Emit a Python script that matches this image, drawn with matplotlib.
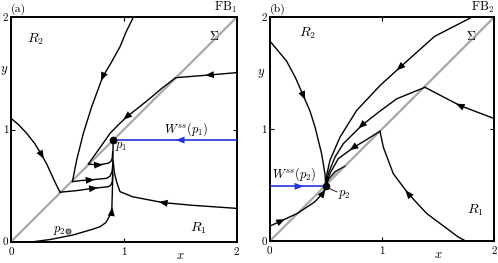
import numpy as np
import matplotlib
matplotlib.use('Agg')
import matplotlib.pyplot as plt

plt.rcParams['font.family'] = 'serif'
plt.rcParams['font.serif'] = ['cmr10', 'DejaVu Serif']
plt.rcParams['mathtext.fontset'] = 'cm'
plt.rcParams['axes.unicode_minus'] = False

## Panel (a) orbits, listed in flow direction
a_top_x = [1.084, 1.02, 0.966, 0.89, 0.813, 0.715, 0.641, 0.582, 0.544]
a_top_y = [2.00, 1.87, 1.738, 1.60, 1.47, 1.203, 0.966, 0.728, 0.535]
a_left_x = [0.0, 0.07, 0.139, 0.21, 0.272, 0.32, 0.361, 0.40, 0.434]
a_left_y = [1.10, 1.04, 0.966, 0.875, 0.773, 0.685, 0.594, 0.51, 0.441]
a_right_x = [2.0, 1.76, 1.46]
a_right_y = [1.507, 1.486, 1.462]
a_diag_x = [1.46, 1.34, 1.232, 1.13, 1.026, 0.95, 0.878, 0.774, 0.685]
a_diag_y = [1.462, 1.37, 1.278, 1.195, 1.114, 1.04, 0.966, 0.817, 0.692]
a_fan1_x = [0.434, 0.58, 0.73, 0.863, 0.885, 0.898, 0.901]
a_fan1_y = [0.441, 0.455, 0.476, 0.49, 0.505, 0.535, 0.60]
a_fan2_x = [0.544, 0.62, 0.70, 0.848, 0.878, 0.895, 0.901]
a_fan2_y = [0.535, 0.545, 0.55, 0.565, 0.585, 0.624, 0.68]
a_fan3_x = [0.685, 0.774, 0.863, 0.885, 0.897, 0.901]
a_fan3_y = [0.692, 0.684, 0.70, 0.715, 0.743, 0.80]
a_bot_x = [0.20, 0.35, 0.55, 0.72, 0.79, 0.84, 0.863, 0.893, 0.90, 0.905]
a_bot_y = [0.0, 0.02, 0.06, 0.11, 0.134, 0.17, 0.209, 0.267, 0.52, 0.906]
a_low_x = [2.0, 1.6, 1.35, 1.08, 0.966, 0.937, 0.915, 0.905]
a_low_y = [0.297, 0.325, 0.348, 0.40, 0.446, 0.53, 0.62, 0.72]
p1 = (0.905, 0.906)
p2a = (0.508, 0.095)

## Panel (b) orbits
b_left_x = [0.0, 0.15, 0.23, 0.30, 0.36, 0.404, 0.463, 0.493, 0.499]
b_left_y = [1.79, 1.61, 1.46, 1.30, 1.16, 1.02, 0.78, 0.60, 0.50]
b_top_x = [1.80, 1.47, 1.161, 0.983, 0.775, 0.627, 0.537, 0.51, 0.499]
b_top_y = [2.00, 1.83, 1.553, 1.39, 1.168, 0.93, 0.722, 0.60, 0.50]
b_right_x = [1.99, 1.696, 1.384]
b_right_y = [1.10, 1.212, 1.375]
b_diag1_x = [1.384, 1.132, 0.98, 0.82, 0.656, 0.582, 0.525, 0.499]
b_diag1_y = [1.375, 1.272, 1.16, 1.034, 0.871, 0.751, 0.61, 0.50]
b_bot_x = [1.75, 1.68, 1.40, 1.235, 1.102, 1.013, 0.983]
b_bot_y = [0.0, 0.038, 0.247, 0.425, 0.603, 0.84, 0.983]
b_diag2_x = [0.983, 0.86, 0.745, 0.611, 0.54, 0.499]
b_diag2_y = [0.983, 0.905, 0.835, 0.737, 0.61, 0.50]
b_low_x = [0.0, 0.10, 0.25, 0.40, 0.475, 0.499]
b_low_y = [0.134, 0.18, 0.25, 0.35, 0.43, 0.49]
b_lens_x = [0.499, 0.53, 0.58, 0.67, 0.60, 0.53, 0.499]
b_lens_y = [0.49, 0.56, 0.62, 0.67, 0.60, 0.53, 0.49]
p2b = (0.499, 0.49)

blue = '#2233dd'
grey = '#a8a8a8'


def arrow_at(ax, xs, ys, k, color='k'):
    ## small filled head at vertex k pointing along the flow
    i0, i1 = max(k - 1, 0), min(k + 1, len(xs) - 1)
    dx, dy = xs[i1] - xs[i0], ys[i1] - ys[i0]
    n = np.hypot(dx, dy)
    dx, dy = dx / n, dy / n
    ax.annotate('', xy=(xs[k] + 0.04 * dx, ys[k] + 0.04 * dy),
                xytext=(xs[k] - 0.04 * dx, ys[k] - 0.04 * dy),
                arrowprops=dict(arrowstyle='-|>,head_length=0.7,head_width=0.28',
                                color=color, lw=0, shrinkA=0, shrinkB=0,
                                mutation_scale=9))


def orbit(ax, xs, ys, arrows=(), color='k', lw=1.0):
    ax.plot(xs, ys, color=color, lw=lw, solid_capstyle='round',
            solid_joinstyle='round', zorder=3)
    for k in arrows:
        arrow_at(ax, xs, ys, k, color)


def frame(ax, tag, fb):
    ax.plot([0, 2], [0, 2], color=grey, lw=1.6, zorder=2)
    ax.set_xlim(0, 2)
    ax.set_ylim(0, 2)
    ax.set_xticks([0, 1, 2])
    ax.set_yticks([0, 1, 2])
    ax.set_xticklabels(['0', '1', '2'], fontsize=8)
    ax.set_yticklabels(['0', '1', '2'], fontsize=8)
    ax.tick_params(direction='in', top=True, right=True, length=3, width=0.8)
    ax.tick_params(axis='x', pad=4)
    ax.tick_params(axis='y', pad=2)
    for s in ax.spines.values():
        s.set_linewidth(1.4)
    ax.text(0.0, 1.01, tag, transform=ax.transAxes, fontsize=8.5, ha='left', va='bottom')
    ax.text(1.0, 1.01, fb, transform=ax.transAxes, fontsize=9, ha='right', va='bottom')
    ax.text(1.5, -0.062, '$x$', transform=ax.get_xaxis_transform(), fontsize=9,
            ha='center', va='center')
    ax.text(1.8, 1.83, r'$\Sigma$', fontsize=9, ha='center', va='center')


fig = plt.figure(figsize=(4.98, 2.63), dpi=100)
ax1 = fig.add_axes([0.0221, 0.081, 0.4532, 0.8532])
ax2 = fig.add_axes([0.5416, 0.083, 0.4504, 0.8510])

## (a)
frame(ax1, '(a)', r'FB$_1$')
orbit(ax1, a_top_x, a_top_y, [4])
orbit(ax1, a_left_x, a_left_y, [4])
orbit(ax1, a_right_x, a_right_y, [1])
orbit(ax1, a_diag_x, a_diag_y, [4])
orbit(ax1, a_fan1_x, a_fan1_y, [2])
orbit(ax1, a_fan2_x, a_fan2_y, [2])
orbit(ax1, a_fan3_x, a_fan3_y, [1])
orbit(ax1, a_bot_x, a_bot_y, [7])
orbit(ax1, a_low_x, a_low_y, [2])
orbit(ax1, [2.0, p1[0]], [p1[1], p1[1]], color=blue, lw=1.2)
arrow_at(ax1, [2.0, 1.5, p1[0]], [p1[1]] * 3, 1, blue)
ax1.plot(*p1, 'o', color='k', ms=4.5, zorder=5)
ax1.plot(*p2a, 'o', mfc='#999999', mec='#333333', ms=3.5, mew=0.7, zorder=5)
ax1.text(0.925, 0.845, '$p_1$', fontsize=9, ha='left', va='center')
ax1.text(0.48, 0.10, '$p_2$', fontsize=9, ha='right', va='center')
ax1.text(1.36, 1.0, r'$W^{ss}(p_1)$', fontsize=9, ha='left', va='center')
ax1.text(0.22, 1.80, '$R_2$', fontsize=10, ha='center', va='center')
ax1.text(1.66, 0.12, '$R_1$', fontsize=10, ha='center', va='center')
ax1.text(-0.03, 1.53, '$y$', transform=ax1.get_yaxis_transform(), fontsize=9,
         ha='center', va='center')

## (b)
frame(ax2, '(b)', r'FB$_2$')
ax2.fill(b_lens_x, b_lens_y, color='#b0b0b0', zorder=2.5)
ax2.plot(b_lens_x[:4], b_lens_y[:4], color='k', lw=0.8, zorder=3)
orbit(ax2, b_left_x, b_left_y, [3])
orbit(ax2, b_top_x, b_top_y, [2])
orbit(ax2, b_right_x, b_right_y, [1])
orbit(ax2, b_diag1_x, b_diag1_y, [3])
orbit(ax2, b_bot_x, b_bot_y, [3])
orbit(ax2, b_diag2_x, b_diag2_y, [2])
orbit(ax2, b_low_x, b_low_y, [1, 4])
orbit(ax2, [0.0, p2b[0]], [p2b[1], p2b[1]], color=blue, lw=1.2)
arrow_at(ax2, [0.0, 0.26, p2b[0]], [p2b[1]] * 3, 1, blue)
ax2.plot(*p2b, 'o', color='k', ms=4.5, zorder=5)
ax2.plot([0.52, 0.60], [0.475, 0.44], color='k', lw=0.6, zorder=4)
ax2.text(0.61, 0.42, '$p_2$', fontsize=9, ha='left', va='center')
ax2.text(0.02, 0.60, r'$W^{ss}(p_2)$', fontsize=9, ha='left', va='center')
ax2.text(0.34, 1.86, '$R_2$', fontsize=10, ha='center', va='center')
ax2.text(1.83, 0.28, '$R_1$', fontsize=10, ha='center', va='center')
ax2.text(-0.04, 1.50, '$y$', transform=ax2.get_yaxis_transform(), fontsize=9,
         ha='center', va='center')

fig.savefig('out.png', dpi=100)
